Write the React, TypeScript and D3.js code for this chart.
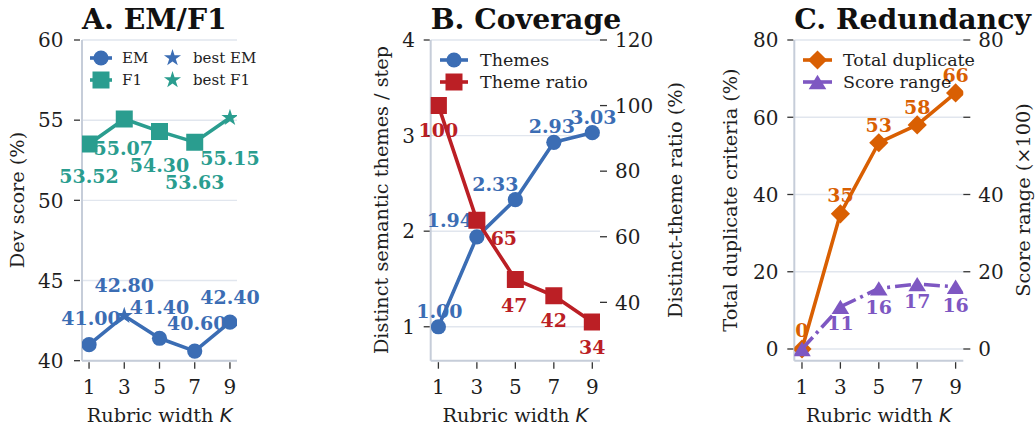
import React from "react";
import * as d3 from "d3";

// ---------------- data ----------------
const K = [1, 3, 5, 7, 9];
const emScores = [41.0, 42.8, 41.4, 40.6, 42.4];
const f1Scores = [53.52, 55.07, 54.3, 53.63, 55.15];
const themesPerStep = [1.0, 1.94, 2.33, 2.93, 3.03];
const themeRatio = [100, 65, 47, 42, 34];
const totalDuplicate = [0, 35.0, 53.4, 58.0, 66.3];
const scoreRange = [0, 10.9, 15.7, 16.8, 16.1];

const aTicks = [40, 45, 50, 55, 60];
const bLeftTicks = [1, 2, 3, 4];
const bRightTicks = [40, 60, 80, 100, 120];
const cLeftTicks = [0, 20, 40, 60, 80];
const cRightTicks = [0, 20, 40, 60, 80];
const cRightTickLabels = ["0", "20", "40", "", "80"];

// ---------------- layout / style ----------------
const W = 1035;
const H = 428;
const TOP = 40;
const BOTTOM = 360.7;
const FONT = "DejaVu Serif";
const TXT = "#1e1e1e";
const SPINE = "#c6cdd9";
const GRID = "#e1e6ee";
const COL = {
  blue: "#3b6db4",
  teal: "#2a9d8f",
  red: "#bb1f25",
  orange: "#d95f02",
  purple: "#7e57c2",
};
const TICK_FS = 20;
const LABEL_FS = 19.3;
const DATA_FS = 19;
const TITLE_FS = 28.3;
const LW = 3.6;

// label offsets in px (label centre relative to marker)
const emOff = [[2, -27], [0, -31], [0, -31], [2, -28], [0, -25]];
const f1Off = [[0, 32], [-1, 29], [0, 34], [0, 40], [0, 40]];
const themeOff = [[1, -16], [-27, -17], [-20, -16], [-2, -16], [1, -16]];
const ratioOff = [[0, 24.5], [27, 18], [-1, 25.5], [0, 24.7], [0, 25.3]];
const dupOff = [[0, -18.5], [0, -19], [0, -18], [0, -17.5], [0, -18]];
const scoreOff = [[0, 18], [0, 16], [0, 18.3], [0, 17.4], [0, 18.2]];

// ---------------- marker shapes ----------------
type Shape = "circle" | "square" | "star" | "diamond" | "triangle";
function shapePath(shape: Shape, s: number): string {
  switch (shape) {
    case "circle":
      return d3.symbol(d3.symbolCircle, Math.PI * s * s)() as string;
    case "square":
      return `M${-s / 2},${-s / 2}h${s}v${s}h${-s}Z`;
    case "diamond":
      return `M0,${-s}L${s},0L0,${s}L${-s},0Z`;
    case "triangle":
      return `M0,${-s * 0.45}L${s * 0.55},${s * 0.45}L${-s * 0.55},${s * 0.45}Z`;
    case "star": {
      const pts: string[] = [];
      for (let i = 0; i < 10; i++) {
        const r = i % 2 === 0 ? s : s * 0.381966;
        const a = -Math.PI / 2 + (i * Math.PI) / 5;
        pts.push(`${(r * Math.cos(a)).toFixed(2)},${(r * Math.sin(a)).toFixed(2)}`);
      }
      return "M" + pts.join("L") + "Z";
    }
  }
}
const SIZE: Record<Shape, number> = { circle: 7.6, square: 17, star: 9, diamond: 9.6, triangle: 16 };

function Marker({ shape, x, y, color, scale = 1 }: { shape: Shape; x: number; y: number; color: string; scale?: number }) {
  return <path d={shapePath(shape, SIZE[shape] * scale)} transform={`translate(${x},${y})`} fill={color} />;
}

// ---------------- axis helpers ----------------
function XAxis({ x, l, r }: { x: d3.ScaleLinear<number, number>; l: number; r: number }) {
  return (
    <g>
      <line x1={l} x2={r} y1={BOTTOM} y2={BOTTOM} stroke={SPINE} strokeWidth={2} />
      {K.map((k) => (
        <g key={k}>
          <line x1={x(k)} x2={x(k)} y1={BOTTOM + 1.5} y2={BOTTOM + 8} stroke="#333" strokeWidth={1.3} />
          <text x={x(k)} y={394} textAnchor="middle" fontSize={TICK_FS} fill={TXT}>
            {k}
          </text>
        </g>
      ))}
      <text x={(l + r) / 2} y={421.7} textAnchor="middle" fontSize={LABEL_FS} fill={TXT}>
        Rubric width{" "}
        <tspan fontFamily="DejaVu Sans" fontStyle="italic">
          K
        </tspan>
      </text>
    </g>
  );
}

function YAxisLeft({ y, ticks, l, r, gap, labelRight, grid = true }: any) {
  return (
    <g>
      {grid &&
        ticks.map((t: number) => (
          <line key={"g" + t} x1={l} x2={r} y1={y(t)} y2={y(t)} stroke={GRID} strokeWidth={1.4} />
        ))}
      <line x1={l} x2={l} y1={TOP} y2={BOTTOM} stroke={SPINE} strokeWidth={2} />
      {ticks.map((t: number) => (
        <g key={t}>
          <line x1={l - gap - 6} x2={l - gap} y1={y(t)} y2={y(t)} stroke="#333" strokeWidth={1.3} />
          <text x={labelRight} y={y(t) + 7.3} textAnchor="end" fontSize={TICK_FS} fill={TXT}>
            {t}
          </text>
        </g>
      ))}
    </g>
  );
}

function YAxisRight({ y, ticks, labels, r }: any) {
  return (
    <g>
      {ticks.map((t: number, i: number) => (
        <g key={t}>
          <line x1={r} x2={r + 7} y1={y(t)} y2={y(t)} stroke="#333" strokeWidth={1.3} />
          <text x={r + 15} y={y(t) + 7.3} textAnchor="start" fontSize={TICK_FS} fill={TXT}>
            {labels ? labels[i] : t}
          </text>
        </g>
      ))}
    </g>
  );
}

function YLabel({ x, text }: { x: number; text: string }) {
  return (
    <text transform={`translate(${x},200) rotate(-90)`} textAnchor="middle" fontSize={LABEL_FS} fill={TXT}>
      {text}
    </text>
  );
}

function Title({ x, text }: { x: number; text: string }) {
  return (
    <text x={x} y={28.5} fontSize={TITLE_FS} fontWeight="bold" fill="#111">
      {text}
    </text>
  );
}

function Series({
  x,
  y,
  values,
  color,
  shape,
  bestIdx = -1,
  dash,
  clipId,
}: {
  x: d3.ScaleLinear<number, number>;
  y: d3.ScaleLinear<number, number>;
  values: number[];
  color: string;
  shape: Shape;
  bestIdx?: number;
  dash?: string;
  clipId: string;
}) {
  const line = d3
    .line<number>()
    .x((_, i) => x(K[i]))
    .y((d) => y(d));
  return (
    <g clipPath={`url(#${clipId})`}>
      <path d={line(values) as string} fill="none" stroke={color} strokeWidth={LW} strokeDasharray={dash} strokeLinejoin="round" />
      {values.map((v, i) =>
        i === bestIdx ? null : <Marker key={i} shape={shape} x={x(K[i])} y={y(v)} color={color} />
      )}
      {bestIdx >= 0 && <Marker shape="star" x={x(K[bestIdx])} y={y(values[bestIdx])} color={color} />}
    </g>
  );
}

function Labels({ x, y, values, color, offs, fmt, skip = [] as number[] }: any) {
  return (
    <g>
      {values.map((v: number, i: number) =>
        skip.includes(i) ? null : (
          <text
            key={i}
            x={x(K[i]) + offs[i][0]}
            y={y(v) + offs[i][1] + DATA_FS * 0.365}
            textAnchor="middle"
            fontSize={DATA_FS}
            fontWeight="bold"
            fill={color}
          >
            {fmt(v)}
          </text>
        )
      )}
    </g>
  );
}

function LegendRow({ x1, x2, y, shape, color, label, tx, fs, line = true, scale = 1 }: any) {
  return (
    <g>
      {line && <line x1={x1} x2={x2} y1={y} y2={y} stroke={color} strokeWidth={LW} />}
      <Marker shape={shape} x={(x1 + x2) / 2} y={y} color={color} scale={scale} />
      <text x={tx} y={y + fs * 0.365} fontSize={fs} fill={TXT}>
        {label}
      </text>
    </g>
  );
}

export default function App() {
  // Panel A
  const aL = 82, aR = 237;
  const xA = d3.scaleLinear().domain([0.6, 9.4]).range([aL, aR]);
  const yA = d3.scaleLinear().domain([40, 60]).range([BOTTOM, TOP]);
  const bestEm = d3.maxIndex(emScores);
  const bestF1 = d3.maxIndex(f1Scores);

  // Panel B
  const bL = 430.7, bR = 600;
  const xB = d3.scaleLinear().domain([0.6, 9.4]).range([bL, bR]);
  const yBL = d3.scaleLinear().domain([0.645, 4]).range([BOTTOM, TOP]);
  const yBR = d3.scaleLinear().domain([22.2, 120]).range([BOTTOM, TOP]);

  // Panel C
  const cL = 794.3, cR = 963.3;
  const xC = d3.scaleLinear().domain([0.6, 9.4]).range([cL, cR]);
  const yCL = d3.scaleLinear().domain([-3.03, 80]).range([BOTTOM, TOP]);
  const yCR = d3.scaleLinear().domain([-3.03, 80]).range([BOTTOM, TOP]);

  const f2 = (v: number) => v.toFixed(2);
  const f0 = (v: number) => v.toFixed(0);

  return (
    <svg
      width={W}
      height={H}
      viewBox={`0 0 ${W} ${H}`}
      style={{ position: "absolute", left: 0, top: 0, background: "#fff" }}
      fontFamily={FONT}
    >
      <defs>
        <clipPath id="clipA">
          <rect x={aL} y={TOP} width={aR - aL} height={BOTTOM - TOP} />
        </clipPath>
        <clipPath id="clipB">
          <rect x={bL} y={TOP} width={bR - bL} height={BOTTOM - TOP} />
        </clipPath>
        <clipPath id="clipC">
          <rect x={cL} y={TOP} width={cR - cL} height={BOTTOM - TOP} />
        </clipPath>
      </defs>
      <rect width={W} height={H} fill="#fff" />

      {/* ---------- Panel A ---------- */}
      <YAxisLeft y={yA} ticks={aTicks} l={aL} r={aR} gap={2} labelRight={63.5} />
      <XAxis x={xA} l={aL} r={aR} />
      <YLabel x={24} text="Dev score (%)" />
      <Title x={aL} text="A. EM/F1" />
      <Series x={xA} y={yA} values={emScores} color={COL.blue} shape="circle" bestIdx={bestEm} clipId="clipA" />
      <Series x={xA} y={yA} values={f1Scores} color={COL.teal} shape="square" bestIdx={bestF1} clipId="clipA" />
      <Labels x={xA} y={yA} values={emScores} color={COL.blue} offs={emOff} fmt={f2} />
      <Labels x={xA} y={yA} values={f1Scores} color={COL.teal} offs={f1Off} fmt={f2} />
      <LegendRow x1={90} x2={112} y={58} shape="circle" color={COL.blue} label="EM" tx={122} fs={15} />
      <LegendRow x1={90} x2={112} y={80} shape="square" color={COL.teal} label="F1" tx={122} fs={15} />
      <LegendRow x1={172.5} x2={172.5} y={58} shape="star" color={COL.blue} label="best EM" tx={193} fs={15} line={false} />
      <LegendRow x1={172.5} x2={172.5} y={80} shape="star" color={COL.teal} label="best F1" tx={193} fs={15} line={false} />

      {/* ---------- Panel B ---------- */}
      <YAxisLeft y={yBL} ticks={bLeftTicks} l={bL} r={bR} gap={1} labelRight={415} />
      <YAxisRight y={yBR} ticks={bRightTicks} r={bR} />
      <XAxis x={xB} l={bL} r={bR} />
      <YLabel x={388} text="Distinct semantic themes / step" />
      <YLabel x={681.5} text="Distinct-theme ratio (%)" />
      <Title x={bL} text="B. Coverage" />
      <Series x={xB} y={yBL} values={themesPerStep} color={COL.blue} shape="circle" clipId="clipB" />
      <Labels x={xB} y={yBL} values={themesPerStep} color={COL.blue} offs={themeOff} fmt={f2} />
      <Series x={xB} y={yBR} values={themeRatio} color={COL.red} shape="square" clipId="clipB" />
      <Labels x={xB} y={yBR} values={themeRatio} color={COL.red} offs={ratioOff} fmt={f0} />
      <LegendRow x1={440} x2={468} y={60} shape="circle" color={COL.blue} label="Themes" tx={480} fs={17.5} />
      <LegendRow x1={440} x2={468} y={82} shape="square" color={COL.red} label="Theme ratio" tx={480} fs={17.5} />

      {/* ---------- Panel C ---------- */}
      <YAxisLeft y={yCL} ticks={cLeftTicks} l={cL} r={cR} gap={1} labelRight={778.5} />
      <YAxisRight y={yCR} ticks={cRightTicks} labels={cRightTickLabels} r={cR} />
      <XAxis x={xC} l={cL} r={cR} />
      <YLabel x={736.5} text="Total duplicate criteria (%)" />
      <YLabel x={1030} text="Score range (×100)" />
      <Title x={cL} text="C. Redundancy" />
      <Series x={xC} y={yCL} values={totalDuplicate} color={COL.orange} shape="diamond" clipId="clipC" />
      <Labels x={xC} y={yCL} values={totalDuplicate} color={COL.orange} offs={dupOff} fmt={f0} />
      <Series x={xC} y={yCR} values={scoreRange} color={COL.purple} shape="triangle" dash="16,5,3,5" clipId="clipC" />
      <Labels x={xC} y={yCR} values={scoreRange} color={COL.purple} offs={scoreOff} fmt={f0} skip={[0]} />
      <LegendRow x1={803} x2={832} y={60} shape="diamond" color={COL.orange} label="Total duplicate" tx={843} fs={17.5} />
      <LegendRow x1={803} x2={832} y={82} shape="triangle" color={COL.purple} label="Score range" tx={843} fs={17.5} />
    </svg>
  );
}
